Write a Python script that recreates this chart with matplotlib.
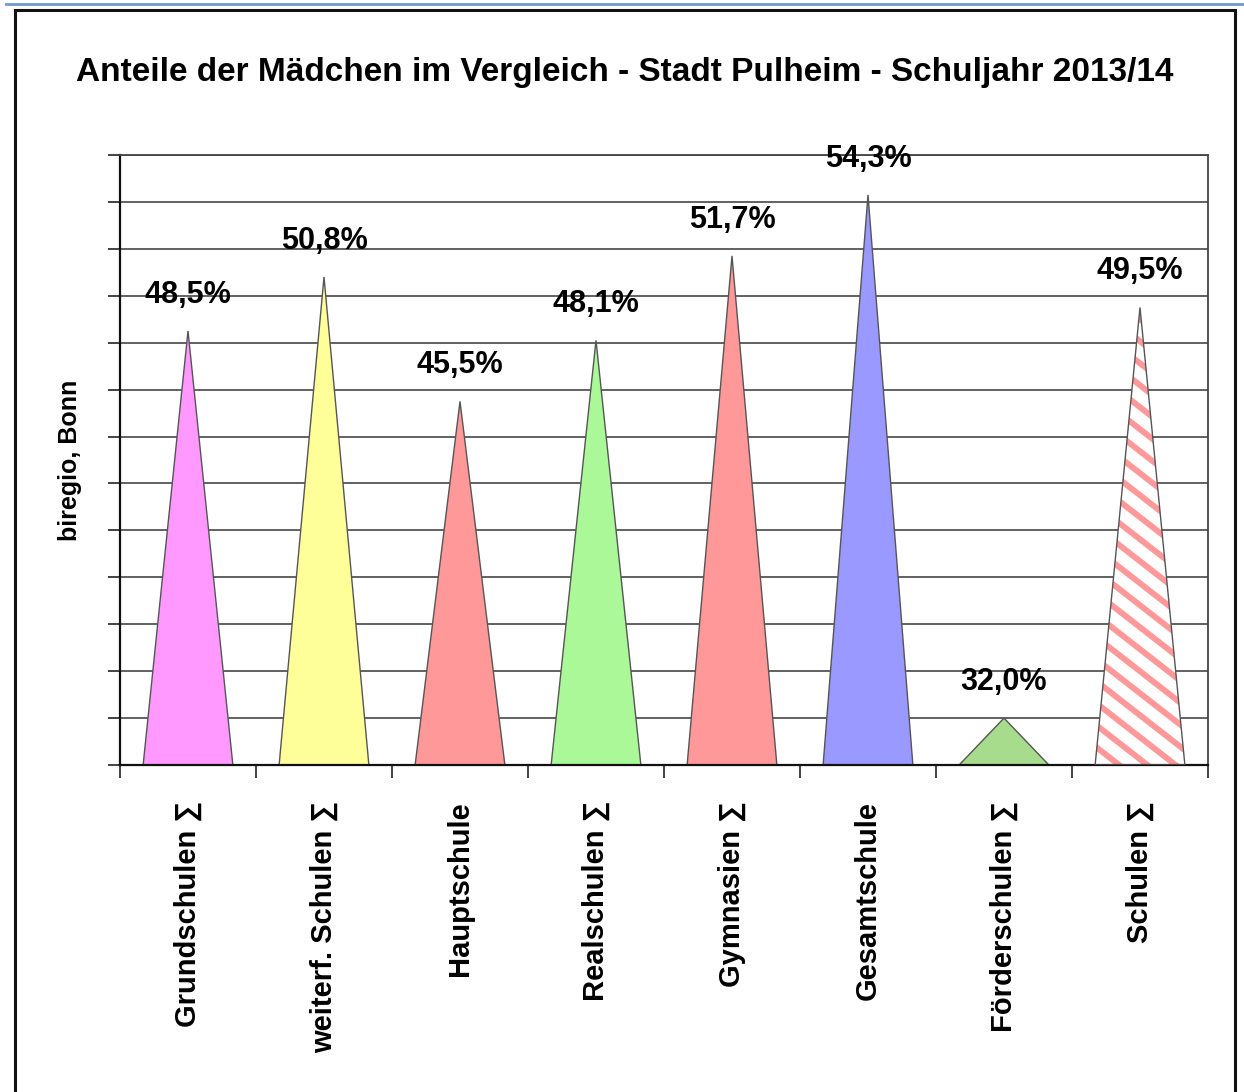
import matplotlib
matplotlib.use("Agg")
import matplotlib.pyplot as plt
from matplotlib.patches import Rectangle
from matplotlib.lines import Line2D

plt.rcParams['font.family'] = ['Liberation Sans', 'DejaVu Sans']

categories = ["Grundschulen \u2211", "weiterf. Schulen \u2211", "Hauptschule", "Realschulen \u2211",
              "Gymnasien \u2211", "Gesamtschule", "Förderschulen \u2211", "Schulen \u2211"]
values = [48.5, 50.8, 45.5, 48.1, 51.7, 54.3, 32.0, 49.5]
value_labels = ["48,5%", "50,8%", "45,5%", "48,1%", "51,7%", "54,3%", "32,0%", "49,5%"]
colors = ["#FF99FF", "#FFFF99", "#FF9999", "#AAF898", "#FF9999", "#9999FF", "#A6DC8C", None]
title = "Anteile der Mädchen im Vergleich - Stadt Pulheim - Schuljahr 2013/14"
ylabel = "biregio, Bonn"
ymin, ymax, ystep = 30, 56, 2

fig = plt.figure(figsize=(12.44, 10.92), dpi=100)
AX_W, AX_H = 1208-120, 765-155
ax = fig.add_axes([120/1244, 1-765/1092, AX_W/1244, AX_H/1092])

ax.set_xlim(-0.5, len(categories)-0.5)
ax.set_ylim(ymin, ymax)
grid_vals = list(range(ymin, ymax+1, ystep))
for g in grid_vals[1:]:
    ax.axhline(g, color="#555555", lw=1.3, zorder=1)


def add_stripes(poly, color="#FF9999", slope=0.78, period=22, lw=4.3):
    # diagonal stripes (pixel-space styling) clipped to the polygon
    c = -AX_W * slope
    while c < AX_H + AX_W * slope + period:
        xs = [0, 1]
        ys = [c / AX_H, (c - slope * AX_W) / AX_H]
        ln, = ax.plot(xs, ys, transform=ax.transAxes, color=color, lw=lw,
                      solid_capstyle="butt", zorder=2.5)
        ln.set_clip_path(poly)
        c += period


half = 0.33
for i, (v, c) in enumerate(zip(values, colors)):
    xs = [i-half, i, i+half]
    ys = [ymin, v, ymin]
    if c is None:
        poly = ax.fill(xs, ys, facecolor="white", edgecolor="none", lw=0, zorder=2)[0]
        add_stripes(poly)
        ax.fill(xs, ys, facecolor="none", edgecolor="#555555", lw=1.0, zorder=3)
    else:
        ax.fill(xs, ys, facecolor=c, edgecolor="#555555", lw=1.0, zorder=2)
    ax.annotate(value_labels[i], (i, v), xytext=(0, 26), textcoords="offset points",
                ha="center", va="center", fontsize=22, fontweight="bold")

ax.set_yticks(grid_vals)
ax.set_yticklabels([])
ax.tick_params(axis="y", direction="out", length=9, width=1.2, color="#222222")
ax.set_xticks(range(len(categories)))
ax.set_xticklabels(categories, rotation=90, fontsize=21, fontweight="bold", va="top")
ax.tick_params(axis="x", which="major", length=0, pad=26)
ax.set_xticks([i-0.5 for i in range(len(categories)+1)], minor=True)
ax.tick_params(axis="x", which="minor", direction="out", length=9, width=1.2, color="#222222")

for s in ["left", "bottom"]:
    ax.spines[s].set_color("#111111")
    ax.spines[s].set_linewidth(1.6)
for s in ["top", "right"]:
    ax.spines[s].set_color("#444444")
    ax.spines[s].set_linewidth(1.3)

ax.set_ylabel(ylabel, fontsize=18, fontweight="bold", labelpad=15)

fig.text(625/1244, 1-72/1092, title, ha="center", va="center", fontsize=24, fontweight="bold")

# outer frame and top line
fig.patches.append(Rectangle((15/1244, -0.02), (1235-15)/1244, 1.02-10/1092, transform=fig.transFigure,
                             fill=False, edgecolor="#111111", lw=2.2))
fig.lines.append(Line2D([6/1244, 1.0], [1-4/1092, 1-4/1092], transform=fig.transFigure,
                        color="#6E9AD0", lw=2))

fig.savefig("out.png", dpi=100)
